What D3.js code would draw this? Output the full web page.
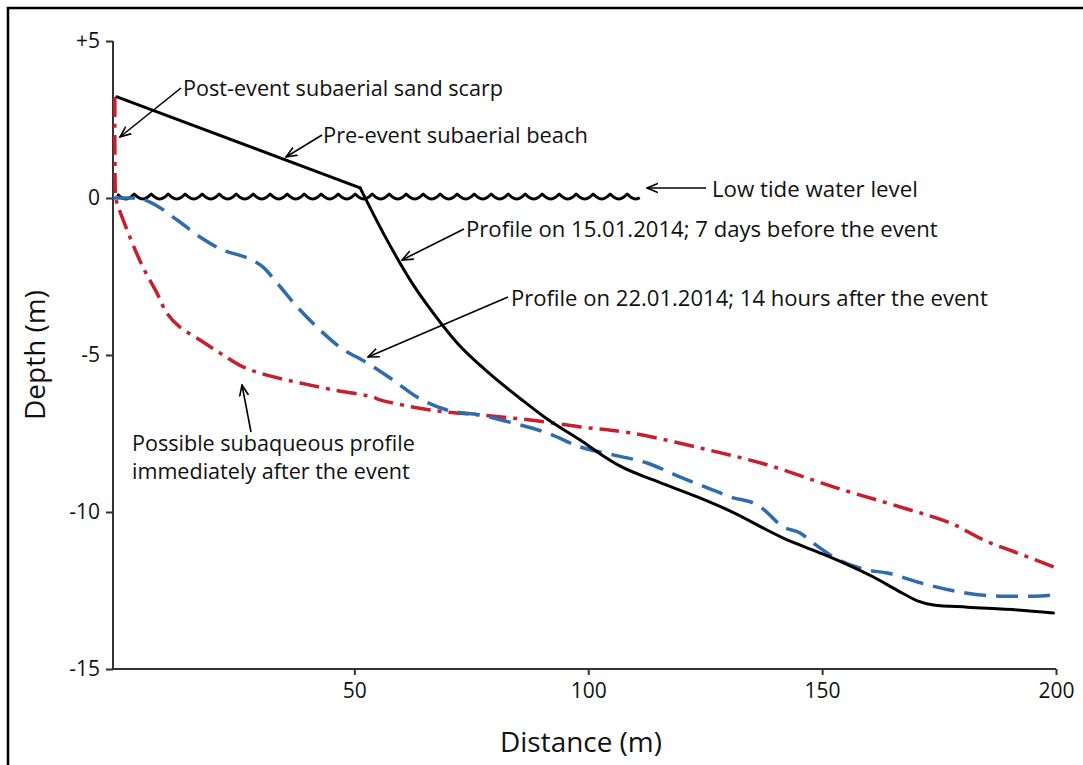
<!DOCTYPE html>
<html>
<head>
<meta charset="utf-8">
<script src="https://cdn.jsdelivr.net/npm/d3@7"></script>
<style>
  html, body { margin: 0; padding: 0; background: #fff; }
  svg { display: block; }
  text { font-family: "Open Sans", "Noto Sans", sans-serif; fill: #111; }
</style>
</head>
<body>
<svg id="chart" width="1083" height="765"></svg>
<script>
// ---------- DATA ----------
const xTicks = [50, 100, 150, 200];
const xTickLabels = ["50", "100", "150", "200"];
const yTicks = [5, 0, -5, -10, -15];
const yTickLabels = ["+5", "0", "-5", "-10", "-15"];
const xTitle = "Distance (m)";
const yTitle = "Depth (m)";

// Profile on 15.01.2014 (pre-event, black solid); index 1 is the beach/shoreface break
const preDist  = [-0.75, 51.23, 56.15, 62.35, 66.84, 71.98, 79.04, 86.10, 91.23, 98.29, 102.57, 106.84, 113.90, 123.32, 130.37, 141.71, 148.98, 154.55, 160.96, 166.74, 170.37, 173.80, 181.07, 191.76, 199.46];
const preDepth = [3.22, 0.32, -1.11, -2.71, -3.66, -4.62, -5.61, -6.46, -7.04, -7.71, -8.15, -8.54, -8.98, -9.52, -9.97, -10.83, -11.27, -11.62, -12.07, -12.55, -12.83, -12.96, -13.03, -13.12, -13.22];
const preBreak = 1;

// Profile on 22.01.2014 (blue dashed)
const postDist  = [-1.6, 3.5, 6.3, 12.1, 17.0, 21.9, 27.1, 30.5, 33.5, 37.8, 42.0, 46.9, 52.7, 58.3, 63.4, 69.8, 76.9, 84.0, 91.2, 98.3, 105.3, 112.6, 119.7, 126.7, 131.0, 134.7, 136.8, 141.7, 145.3, 148.1, 152.4, 159.7, 163.9, 170.4, 179.6, 188.1, 195.2, 199.5];
const postDepth = [0, 0, -0.13, -0.70, -1.24, -1.66, -1.91, -2.20, -2.71, -3.47, -4.11, -4.75, -5.25, -5.80, -6.34, -6.75, -6.91, -7.17, -7.48, -7.93, -8.18, -8.44, -8.89, -9.30, -9.55, -9.68, -9.84, -10.48, -10.67, -10.99, -11.43, -11.85, -11.94, -12.23, -12.55, -12.68, -12.68, -12.64];

// Possible subaqueous profile immediately after the event (red dash-dot)
const possDist  = [-1.2, -1.2, -1.0, -0.75, 2.0, 4.8, 7.8, 9.9, 12.7, 17.0, 21.3, 26.2, 31.3, 38.4, 45.5, 54.0, 55.5, 66.2, 76.9, 87.6, 98.3, 109.0, 123.9, 138.3, 152.4, 166.7, 177.4, 184.5, 191.8, 199.5];
const possDepth = [3.22, 1.53, 0, -0.16, -1.24, -2.20, -3.03, -3.66, -4.11, -4.52, -4.94, -5.38, -5.64, -5.89, -6.11, -6.34, -6.43, -6.75, -6.91, -7.07, -7.29, -7.48, -7.96, -8.50, -9.20, -9.84, -10.35, -10.89, -11.31, -11.75];

// Low tide water level
const waterLevel = 0;
const waterExtent = [-0.7, 111];

// Annotation texts
const annoText = [
  ["Post-event subaerial sand scarp"],
  ["Pre-event subaerial beach"],
  ["Low tide water level"],
  ["Profile on 15.01.2014; 7 days before the event"],
  ["Profile on 22.01.2014; 14 hours after the event"],
  ["Possible subaqueous profile", "immediately after the event"]
];

// ---------- LAYOUT ----------
const svg = d3.select("#chart");
const W = 1083, H = 765;

const x = d3.scaleLinear().domain([-1.6, 200]).range([113, 1056]);
const y = d3.scaleLinear().domain([-15, 5]).range([669, 41]);

// outer frame
svg.append("rect")
  .attr("x", 8).attr("y", 8)
  .attr("width", W + 20).attr("height", H + 20)
  .attr("fill", "none").attr("stroke", "#000").attr("stroke-width", 2.5);

// arrow marker
svg.append("defs").append("marker")
  .attr("id", "arr")
  .attr("viewBox", "0 -6 12 12")
  .attr("refX", 11).attr("refY", 0)
  .attr("markerWidth", 12).attr("markerHeight", 12)
  .attr("markerUnits", "userSpaceOnUse")
  .attr("orient", "auto")
  .append("path")
  .attr("d", "M0,-4.5L11,0L0,4.5")
  .attr("fill", "none").attr("stroke", "#000").attr("stroke-width", 1.6);

// axes
const xAxis = d3.axisBottom(x).tickValues(xTicks)
  .tickFormat((d, i) => xTickLabels[i]).tickSizeOuter(0).tickSize(6).tickPadding(8);
const yAxis = d3.axisLeft(y).tickValues(yTicks)
  .tickFormat((d, i) => yTickLabels[i]).tickSizeOuter(0).tickSize(7).tickPadding(6);

const gx = svg.append("g").attr("transform", `translate(0,${y(-15)})`).call(xAxis);
const gy = svg.append("g").attr("transform", `translate(${x.range()[0]},0)`).call(yAxis);
[gx, gy].forEach(g => {
  g.attr("font-size", 21).attr("font-family", "'Open Sans', sans-serif");
  g.select(".domain").attr("stroke", "#333").attr("stroke-width", 2);
  g.selectAll(".tick line").attr("stroke", "#333").attr("stroke-width", 2);
  g.selectAll(".tick text").attr("font-size", 21).attr("fill", "#111");
});
gy.select(".domain").attr("d", `M0,${y(5)}V${y(-15)}`);
gx.select(".domain").attr("d", `M${x.range()[0]},0H${x(200)}`);

// fit text to a target width
function fitText(sel, target) {
  sel.attr("font-size", 20);
  const len = sel.node().getComputedTextLength();
  sel.attr("font-size", 20 * target / len);
}

// axis titles
const xt = svg.append("text").text(xTitle)
  .attr("x", 581).attr("y", 752).attr("text-anchor", "middle");
fitText(xt, 162);
const yt = svg.append("text").text(yTitle)
  .attr("text-anchor", "middle")
  .attr("transform", "translate(45,355) rotate(-90)");
fitText(yt, 130);

// water level (wavy line)
const waveStep = 17, waveAmp = 2.4;
const wx0 = x(waterExtent[0]), wx1 = x(waterExtent[1]);
const wy = y(waterLevel) - 1.5;
const wavePts = d3.range(wx0, wx1 + 0.5, 0.5).map(px => {
  const t = (px - wx0) / waveStep;
  return [px, wy - waveAmp + 2 * waveAmp * Math.abs(Math.sin(Math.PI * t))];
});
svg.append("path")
  .attr("d", d3.line()(wavePts))
  .attr("fill", "none").attr("stroke", "#000").attr("stroke-width", 3)
  .attr("stroke-linejoin", "round");

// profiles
const zip = (a, b) => a.map((v, i) => [v, b[i]]);
const lineCR = d3.line().x(d => x(d[0])).y(d => y(d[1])).curve(d3.curveCatmullRom.alpha(0.5));
const lineMX = d3.line().x(d => x(d[0])).y(d => y(d[1])).curve(d3.curveMonotoneX);
const lineLin = d3.line().x(d => x(d[0])).y(d => y(d[1]));

svg.append("path")
  .attr("d", lineCR(zip(possDist, possDepth)))
  .attr("fill", "none").attr("stroke", "#c61f2d").attr("stroke-width", 3.5)
  .attr("stroke-dasharray", "20,7,4,7");

svg.append("path")
  .attr("d", lineMX(zip(postDist, postDepth)))
  .attr("fill", "none").attr("stroke", "#2f6cae").attr("stroke-width", 3.5)
  .attr("stroke-dasharray", "22,10");

const prePts = zip(preDist, preDepth);
// subaerial beach: straight
svg.append("path")
  .attr("d", lineLin(prePts.slice(0, preBreak + 1)))
  .attr("fill", "none").attr("stroke", "#000").attr("stroke-width", 3)
  .attr("stroke-linecap", "round");
// subaqueous part: smooth
svg.append("path")
  .attr("d", lineMX(prePts.slice(preBreak)))
  .attr("fill", "none").attr("stroke", "#000").attr("stroke-width", 3)
  .attr("stroke-linecap", "round").attr("stroke-linejoin", "round");

// annotations (pixel layout): text left x, first line centre y, width, arrow from, arrow tip
const annoLayout = [
  { tx: 183, ty: 87,  w: 320, from: [181, 88],  to: [120, 137] },
  { tx: 323, ty: 134, w: 265, from: [322, 135], to: [286, 157] },
  { tx: 712, ty: 188, w: 206, from: [706, 188], to: [647, 188] },
  { tx: 466, ty: 228, w: 472, from: [464, 229], to: [402, 260] },
  { tx: 511, ty: 297, w: 477, from: [508, 297], to: [368, 357] },
  { tx: 132, ty: 442, w: 283, from: [251, 432], to: [242, 385] }
];
const lineGap = 28;

annoText.forEach((lines, i) => {
  const L = annoLayout[i];
  svg.append("line")
    .attr("x1", L.from[0]).attr("y1", L.from[1])
    .attr("x2", L.to[0]).attr("y2", L.to[1])
    .attr("stroke", "#000").attr("stroke-width", 1.6)
    .attr("marker-end", "url(#arr)");
  const t = svg.append("text")
    .attr("x", L.tx).attr("y", L.ty)
    .attr("dominant-baseline", "central")
    .text(lines[0]);
  fitText(t, L.w);
  const fs = +t.attr("font-size");
  for (let k = 1; k < lines.length; k++) {
    svg.append("text")
      .attr("x", L.tx).attr("y", L.ty + k * lineGap)
      .attr("dominant-baseline", "central")
      .attr("font-size", fs)
      .text(lines[k]);
  }
});
</script>
</body>
</html>
